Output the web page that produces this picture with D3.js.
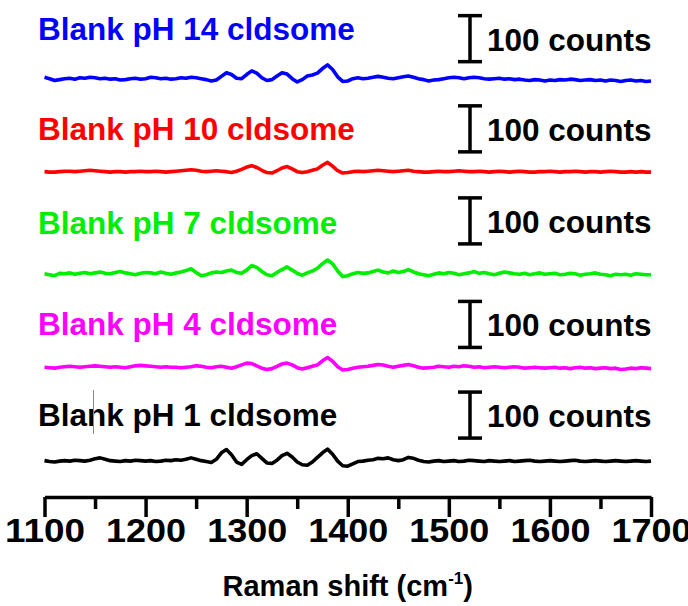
<!DOCTYPE html>
<html lang="en">
<head>
    <meta charset="UTF-8">
    <title>Blank cldsome Raman spectra</title>
    <script src="https://d3js.org/d3.v7.min.js"></script>
    <style>
        body { margin: 0; background: #fff; }
        svg { display: block; }
        text { font-family: "Liberation Sans", Arial, sans-serif; font-weight: bold; }
        .trace { fill: none; stroke-width: 3.6px; stroke-linejoin: round; }
    </style>
</head>
<body>
<svg id="chart"></svg>
<script>
    // wavenumber grid (cm-1), one point every 5 cm-1
    const shifts = d3.range(1100, 1701, 5);

    // intensities in counts, relative to each trace's own baseline
    const pH1 = [
        1, -1, -2, 0, 1, 0, 2, 1, 0, 2,
        5, 7, 4, 1, 0, -1, 1, 0, 2, 1,
        0, 1, -1, 0, 2, 1, 3, 2, 4, 7,
        4, 1, -1, -3, 4, 18, 25, 14, -2, -7,
        3, 12, 16, 6, -4, -5, 2, 12, 17, 9,
        -2, -8, -9, -2, 8, 18, 26, 15, 0, -10,
        -11, -6, -1, 0, 2, 3, 6, 5, 7, 3,
        1, 3, 8, 6, 2, -1, -2, 0, 1, -1,
        0, 1, -1, 0, 2, 1, 0, -1, 1, 0,
        -1, 0, 1, -1, 0, 1, 2, 0, -1, 0,
        1, 0, -1, 0, 1, 2, 0, -1, 0, 1,
        0, -1, 0, 1, 0, -1, 0, 1, 0, -1,
        0
    ];
    const pH4 = [
        0, -1, -2, 0, 1, 2, 1, 0, 1, 2,
        3, 2, 1, 0, 1, 0, -1, 1, 3, 4,
        3, 2, 1, 0, 1, 0, 0, -1, 0, 1,
        3, 2, 0, -1, 1, 2, 0, -2, 1, 5,
        9, 8, 3, -2, -5, -3, 2, 7, 9, 5,
        -1, -4, -1, 2, 5, 14, 21, 13, 1, -6,
        -5, -2, 0, 1, 2, 4, 6, 5, 2, 0,
        2, 4, 6, 3, 0, -2, -1, 0, 2, 1,
        0, 2, 1, 3, 2, 0, 1, -1, 0, 1,
        0, -1, 0, 1, 0, -2, -1, 0, -1, -2,
        -1, 0, -2, -1, -3, -1, 0, -2, -1, -3,
        -2, -1, -3, -2, -5, -4, -2, -3, -1, -2,
        -3
    ];
    const pH7 = [
        0, -2, -4, 1, 0, 2, -1, 1, 3, 0,
        2, 4, 1, 0, 3, 5, 2, 0, -2, 1,
        3, 2, 0, 4, 1, -1, 2, 4, 7, 11,
        3, -4, -2, 2, 4, 3, 6, 8, 3, 1,
        8, 18, 14, 5, -2, -4, 3, 9, 15, 8,
        1, -3, 2, 6, 12, 22, 30, 22, 6, -6,
        -4, 0, 3, 1, 2, 5, 8, 4, 2, 6,
        3, 5, 9, 4, 0, -2, -4, -1, 2, 0,
        3, 1, -2, 0, 2, 5, 1, 3, 0, -2,
        1, 4, 2, 0, -1, 1, -2, 0, 2, -1,
        0, 1, -2, -1, 1, 0, -3, -1, 0, 2,
        -1, -2, -4, -1, -2, -1, -3, 0, -1, -2,
        -2
    ];
    const pH10 = [
        0, -1, -1, 0, 1, 1, 0, 1, 2, 3,
        2, 1, 0, -1, 0, 0, -1, 0, 0, 1,
        0, 0, 1, 0, -1, 0, 1, 2, 3, 4,
        3, 1, 0, 1, 2, 1, 0, -2, 1, 5,
        10, 13, 9, 3, -2, -3, 2, 8, 11, 6,
        0, -2, 0, 3, 6, 14, 20, 12, 2, -3,
        -2, 0, 1, 0, 1, 2, 3, 2, 1, 0,
        1, 2, 3, 1, 0, -1, -1, 0, 1, 0,
        0, 1, 2, 1, 0, 0, 1, 0, -1, 0,
        1, 0, -1, 0, 1, 0, -1, -1, 0, 0,
        1, 0, -1, 0, 0, 1, 0, -1, 0, 0,
        -1, 0, 1, 0, -1, -1, 0, -1, 0, -1,
        -1
    ];
    const pH14 = [
        3, 0, -4, -2, 0, 1, -1, 2, 1, 3,
        2, 0, 1, -1, 0, -3, -2, 0, 1, -1,
        0, 3, 2, 0, 1, -1, 0, 2, 1, 3,
        2, 0, -2, -5, -3, 5, 13, 9, 1, 0,
        9, 17, 12, 2, -4, -2, 6, 13, 10, 0,
        -7, -2, 6, 8, 12, 22, 30, 20, 4, -6,
        -5, 0, 2, 0, 1, 3, 5, 3, 1, 0,
        2, 4, 6, 3, 0, -2, -5, -3, -2, 0,
        2, 3, 2, 0, 2, 3, 2, 0, -1, 0,
        1, -1, 0, -2, -1, -3, -4, -2, -3, -5,
        -3, -4, -2, -3, -1, -2, -4, -3, -2, -4,
        -3, -5, -3, -4, -6, -4, -3, -5, -4, -6,
        -5
    ];

    const labels   = ["Blank pH 1 cldsome", "Blank pH 4 cldsome", "Blank pH 7 cldsome", "Blank pH 10 cldsome", "Blank pH 14 cldsome"];
    const colors   = ["#000000", "#ff00ff", "#00ee00", "#ff0000", "#0000ff"];
    const series   = [pH1, pH4, pH7, pH10, pH14];
    // stacking offsets and scale-bar bottoms above each baseline, in counts
    const offsets  = [0, 204, 407, 629, 831];
    const barFrom  = [50, 43, 65, 43, 37];
    const barSpan  = 100;
    const majorTicks = [1100, 1200, 1300, 1400, 1500, 1600, 1700];
    const minorTicks = [1150, 1250, 1350, 1450, 1550, 1650];

    // label nudges (px) relative to the scale bar centre
    const labelShift = [0, 0, 2, 0, -10];

    const W = 688, H = 606;
    const svg = d3.select("#chart").attr("width", W).attr("height", H);

    const x = d3.scaleLinear().domain([1100, 1700]).range([44.5, 651]);
    const y = d3.scaleLinear().domain([-78, 1002]).range([497, 0]);
    const axisY = 497;

    const line = d3.line()
        .x(d => x(d[0]))
        .y(d => y(d[1]));

    series.forEach((vals, i) => {
        const pts = shifts.map((s, j) => [s, offsets[i] + vals[j]]);
        svg.append("path")
            .attr("class", "trace")
            .attr("stroke", colors[i])
            .attr("d", line(pts));

        const b0 = y(offsets[i] + barFrom[i]);
        const b1 = y(offsets[i] + barFrom[i] + barSpan);
        const bx = 470, half = 12;
        const mid = (b0 + b1) / 2;

        svg.append("text")
            .attr("x", 38)
            .attr("y", mid + 11 + labelShift[i])
            .attr("fill", colors[i])
            .style("font-size", "31.5px")
            .text(labels[i]);

        // 100 counts scale bar
        const bar = svg.append("g").attr("stroke", "#000").attr("stroke-width", 3.5);
        bar.append("line").attr("x1", bx).attr("x2", bx).attr("y1", b0).attr("y2", b1);
        bar.append("line").attr("x1", bx - half).attr("x2", bx + half).attr("y1", b0).attr("y2", b0);
        bar.append("line").attr("x1", bx - half).attr("x2", bx + half).attr("y1", b1).attr("y2", b1);

        svg.append("text")
            .attr("x", 487)
            .attr("y", mid + 12)
            .attr("fill", "#000")
            .style("font-size", "31.5px")
            .text("100 counts");
    });

    // stray cursor mark in the bottom label
    svg.append("line")
        .attr("x1", 93.5).attr("x2", 93.5)
        .attr("y1", 390).attr("y2", 434)
        .attr("stroke", "#888").attr("stroke-width", 1);

    // x axis
    const gx = svg.append("g").attr("transform", `translate(0,${axisY})`);
    gx.call(d3.axisBottom(x).tickValues(majorTicks).tickSize(20).tickSizeOuter(0).tickPadding(1)
        .tickFormat(d3.format("d")));
    gx.select(".domain").attr("stroke-width", 3.5);
    gx.selectAll(".tick line").attr("stroke-width", 3.5);
    gx.selectAll(".tick text")
        .attr("fill", "#000")
        .attr("textLength", 80)
        .attr("lengthAdjust", "spacingAndGlyphs")
        .style("font-size", "34px")
        .style("font-family", "\"Liberation Sans\", Arial, sans-serif")
        .style("font-weight", "bold");

    const gm = svg.append("g").attr("transform", `translate(0,${axisY})`);
    gm.call(d3.axisBottom(x).tickValues(minorTicks).tickSize(12).tickFormat(""));
    gm.select(".domain").remove();
    gm.selectAll(".tick line").attr("stroke-width", 3.5);

    const title = svg.append("text")
        .attr("x", (x(1100) + x(1700)) / 2)
        .attr("y", 596)
        .attr("text-anchor", "middle")
        .style("font-size", "29px");
    title.append("tspan").text("Raman shift (cm");
    title.append("tspan").attr("dy", -12).style("font-size", "17px").text("-1");
    title.append("tspan").attr("dy", 12).text(")");
</script>
</body>
</html>
